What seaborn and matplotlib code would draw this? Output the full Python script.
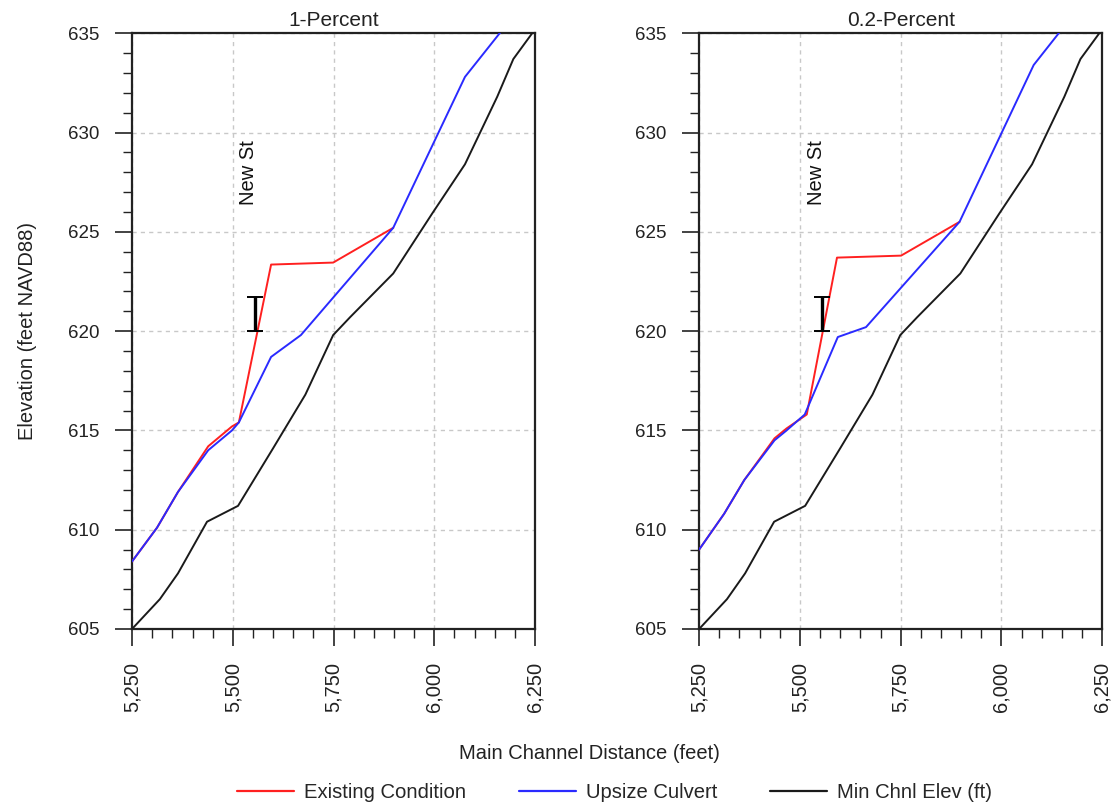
import numpy as np
import pandas as pd
import matplotlib
matplotlib.use("Agg")
import matplotlib.pyplot as plt
import seaborn as sns
from matplotlib.ticker import MultipleLocator, FuncFormatter
from matplotlib.lines import Line2D

# ---------------- data ----------------
panel_titles = ["1-Percent", "0.2-Percent"]
series_names = ["Existing Condition", "Upsize Culvert", "Min Chnl Elev (ft)"]

# 1-Percent
exist_1_x = [5250, 5312, 5364, 5439, 5498, 5515, 5595, 5749, 5898]
exist_1_y = [608.4, 610.1, 611.9, 614.2, 615.2, 615.4, 623.35, 623.45, 625.2]
upsize_1_x = [5250, 5312, 5364, 5439, 5498, 5515, 5595, 5669, 5898, 6076, 6170]
upsize_1_y = [608.4, 610.1, 611.9, 614.0, 615.0, 615.4, 618.7, 619.8, 625.2, 632.8, 635.2]

# 0.2-Percent
exist_02_x = [5250, 5312, 5362, 5437, 5467, 5517, 5592, 5751, 5896]
exist_02_y = [609.0, 610.8, 612.5, 614.6, 615.1, 615.8, 623.7, 623.8, 625.5]
upsize_02_x = [5250, 5312, 5362, 5437, 5467, 5512, 5594, 5664, 5896, 6080, 6150]
upsize_02_y = [609.0, 610.8, 612.5, 614.5, 615.0, 615.8, 619.7, 620.2, 625.5, 633.4, 635.2]

# Minimum channel elevation (same for both)
chnl_x = [5250, 5319, 5364, 5436, 5513, 5600, 5680, 5749, 5791, 5898, 5994, 6076, 6156, 6196, 6250]
chnl_y = [605.0, 606.5, 607.8, 610.4, 611.2, 614.1, 616.8, 619.8, 620.7, 622.9, 625.9, 628.4, 631.8, 633.7, 635.2]

# Structure marker (New St)
struct_x = 5555
struct_lo, struct_hi = 620.0, 621.7
struct_label = "New St"
label_y = 628.0

x_ticks = [5250, 5500, 5750, 6000, 6250]
y_ticks = [605, 610, 615, 620, 625, 630, 635]

colors = {"Existing Condition": "#ff2020", "Upsize Culvert": "#2a2aff", "Min Chnl Elev (ft)": "#1a1a1a"}

panels = [
    (exist_1_x, exist_1_y, upsize_1_x, upsize_1_y),
    (exist_02_x, exist_02_y, upsize_02_x, upsize_02_y),
]

# ---------------- style ----------------
sns.set_theme(style="white")
plt.rcParams["font.family"] = ["Liberation Sans", "DejaVu Sans"]
plt.rcParams["axes.edgecolor"] = "#222222"

fig, axes = plt.subplots(1, 2, figsize=(11.19, 8.10), dpi=100)
fig.subplots_adjust(left=0.118, right=0.985, top=0.959, bottom=0.2235, wspace=0.407)

for ax, title, (ex_x, ex_y, up_x, up_y) in zip(axes, panel_titles, panels):
    df_ex = pd.DataFrame({"x": ex_x, "y": ex_y})
    df_up = pd.DataFrame({"x": up_x, "y": up_y})
    df_ch = pd.DataFrame({"x": chnl_x, "y": chnl_y})
    sns.lineplot(data=df_ex, x="x", y="y", ax=ax, color=colors["Existing Condition"],
                 lw=1.4, sort=False, estimator=None, zorder=3)
    sns.lineplot(data=df_up, x="x", y="y", ax=ax, color=colors["Upsize Culvert"],
                 lw=1.4, sort=False, estimator=None, zorder=4)
    sns.lineplot(data=df_ch, x="x", y="y", ax=ax, color=colors["Min Chnl Elev (ft)"],
                 lw=1.4, sort=False, estimator=None, zorder=3)

    # structure marker
    ax.errorbar([struct_x], [(struct_lo + struct_hi) / 2], yerr=[(struct_hi - struct_lo) / 2],
                fmt="none", ecolor="black", elinewidth=2.4, capsize=5.5, capthick=1.4, zorder=5)
    ax.text(struct_x - 15, label_y, struct_label, rotation=90, ha="center", va="center",
            fontsize=14.5, color="#111111")

    ax.set_xlim(5250, 6250)
    ax.set_ylim(605, 635)
    ax.set_xticks(x_ticks)
    ax.set_yticks(y_ticks)
    ax.xaxis.set_minor_locator(MultipleLocator(50))
    ax.yaxis.set_minor_locator(MultipleLocator(1))
    ax.xaxis.set_major_formatter(FuncFormatter(lambda v, p: f"{int(v):,}"))
    ax.tick_params(axis="x", which="major", direction="out", length=12.5, width=1.2,
                   labelsize=14.5, pad=11, labelrotation=90, bottom=True, colors="#222222")
    ax.tick_params(axis="x", which="minor", direction="out", length=6.5, width=1.0, bottom=True,
                   colors="#222222")
    ax.tick_params(axis="y", which="major", direction="out", length=12, width=1.2,
                   labelsize=13.5, pad=11.5, left=True, colors="#222222")
    ax.tick_params(axis="y", which="minor", direction="out", length=6.5, width=1.0, left=True,
                   colors="#222222")
    ax.grid(True, which="major", color="#c8c8c8", linestyle=(0, (3, 3)), linewidth=1.0)
    ax.set_axisbelow(True)
    for s in ax.spines.values():
        s.set_visible(True)
        s.set_linewidth(1.6)
        s.set_color("#222222")
    ax.set_title(title, fontsize=15, pad=5, color="#222222")
    ax.set_xlabel("")
    ax.set_ylabel("")

axes[0].set_ylabel("Elevation (feet NAVD88)", fontsize=14.5, labelpad=22, color="#222222")
fig.supxlabel("Main Channel Distance (feet)", x=0.527, y=0.058, fontsize=14.5, color="#222222")

handles = [Line2D([0], [0], color=colors[n], lw=1.6) for n in series_names]
fig.legend(handles, series_names, loc="center", bbox_to_anchor=(0.549, 0.021), ncol=3,
           frameon=False, fontsize=14.6, handlelength=2.8, columnspacing=2.6, handletextpad=0.5)

fig.savefig("out.png", dpi=100)
